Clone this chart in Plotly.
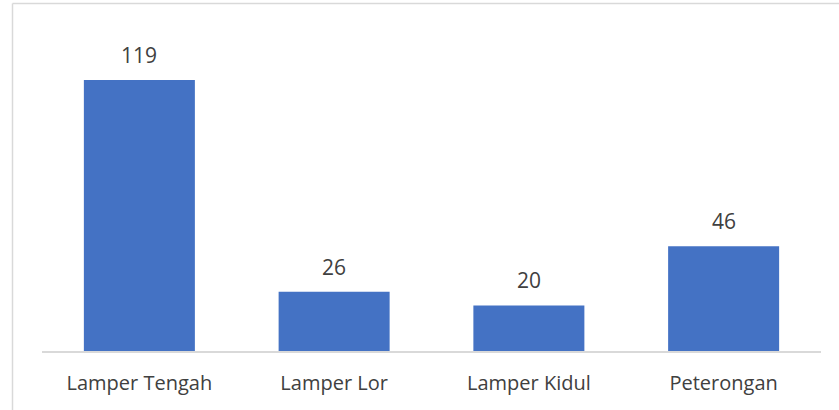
import plotly.graph_objects as go

categories = ["Lamper Tengah", "Lamper Lor", "Lamper Kidul", "Peterongan"]
values = [119, 26, 20, 46]

W, H = 839, 410
ml, mr, mt, mb = 42, 18, 30, 59
pw, ph = W - ml - mr, H - mt - mb

def px_x(x):
    return (x - ml) / pw

def px_y(y):
    return (H - mb - y) / ph

fig = go.Figure()
fig.add_trace(go.Bar(x=categories, y=values, marker_color="#4472C4",
                     marker_line_width=0, hoverinfo="x+y"))

for c, v in zip(categories, values):
    fig.add_annotation(x=c, y=v, text=str(v), showarrow=False,
                       yanchor="middle", yshift=25,
                       font=dict(family="Open Sans", size=21, color="#404040"))

fig.update_layout(
    width=W, height=H,
    margin=dict(l=ml, r=mr, t=mt, b=mb),
    paper_bgcolor="white", plot_bgcolor="white",
    bargap=0.43, showlegend=False,
    font=dict(family="Open Sans", size=20, color="#404040"),
    xaxis=dict(showline=True, linecolor="#d9d9d9", linewidth=1.5,
               ticks="outside", ticklen=13, tickcolor="rgba(0,0,0,0)",
               showgrid=False, tickfont=dict(size=20, color="#404040")),
    yaxis=dict(range=[0, 141], visible=False, showgrid=False),
    shapes=[
        dict(type="line", xref="paper", yref="paper",
             x0=px_x(12.5), x1=px_x(845), y0=px_y(3.5), y1=px_y(3.5),
             line=dict(color="#d9d9d9", width=1.5)),
        dict(type="line", xref="paper", yref="paper",
             x0=px_x(12.5), x1=px_x(12.5), y0=px_y(3.5), y1=px_y(415),
             line=dict(color="#d9d9d9", width=1.5)),
    ],
)

fig.write_html("out.html", config={"displayModeBar": False},
               post_script="document.body.style.margin='0';document.body.style.overflow='hidden';")
